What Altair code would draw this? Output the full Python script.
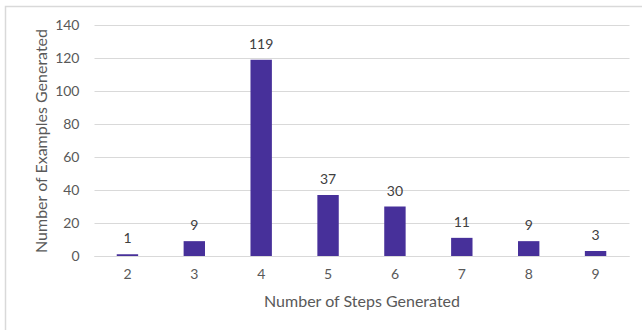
import altair as alt
import pandas as pd

# Histogram of how many reasoning steps each generated example contains
steps = [2, 3, 4, 5, 6, 7, 8, 9]
counts = [1, 9, 119, 37, 30, 11, 9, 3]

df = pd.DataFrame({"steps": [str(s) for s in steps], "count": counts})

FONT = "Lato"
TEXT = "#595959"
BAR = "#47309A"

x = alt.X(
    "steps:N",
    sort=[str(s) for s in steps],
    title="Number of Steps Generated",
    scale=alt.Scale(paddingInner=0.68, paddingOuter=0.34),
    axis=alt.Axis(
        labelAngle=0,
        ticks=False,
        domainColor="#d9d9d9",
        labelPadding=11,
        titlePadding=12,
    ),
)
y = alt.Y(
    "count:Q",
    title="Number of  Examples Generated",
    scale=alt.Scale(domain=[0, 140]),
    axis=alt.Axis(
        values=[0, 20, 40, 60, 80, 100, 120, 140],
        ticks=False,
        domain=False,
        gridColor="#d9d9d9",
        labelPadding=15,
        titlePadding=5,
    ),
)

# light-gray frame: only its top and left edges fall inside the figure
frame = alt.Chart(pd.DataFrame({"k": [0]})).mark_rect(
    filled=False, fillOpacity=0, stroke="#d9d9d9", strokeWidth=1.5
).encode(
    x=alt.value(-88.5), x2=alt.value(600), y=alt.value(-18.5), y2=alt.value(360)
)

bars = alt.Chart(df).mark_bar(color=BAR).encode(x=x, y=y)

labels = alt.Chart(df).mark_text(
    baseline="bottom", dy=-8, fontSize=14, color="#404040", font=FONT
).encode(x=x, y=y, text="count:Q")

chart = (
    alt.layer(frame, bars, labels)
    .properties(
        width=535,
        height=231,
        autosize=alt.AutoSizeParams(type="none"),
        padding={"left": 94, "top": 25, "right": 13, "bottom": 74},
    )
    .configure(background="white")
    .configure_view(stroke=None)
    .configure_axis(
        labelFont=FONT,
        titleFont=FONT,
        labelFontSize=14,
        titleFontSize=16,
        labelColor=TEXT,
        titleColor=TEXT,
        titleFontWeight="normal",
    )
)

chart.save("out.html", embed_options={"renderer": "svg", "actions": False})
